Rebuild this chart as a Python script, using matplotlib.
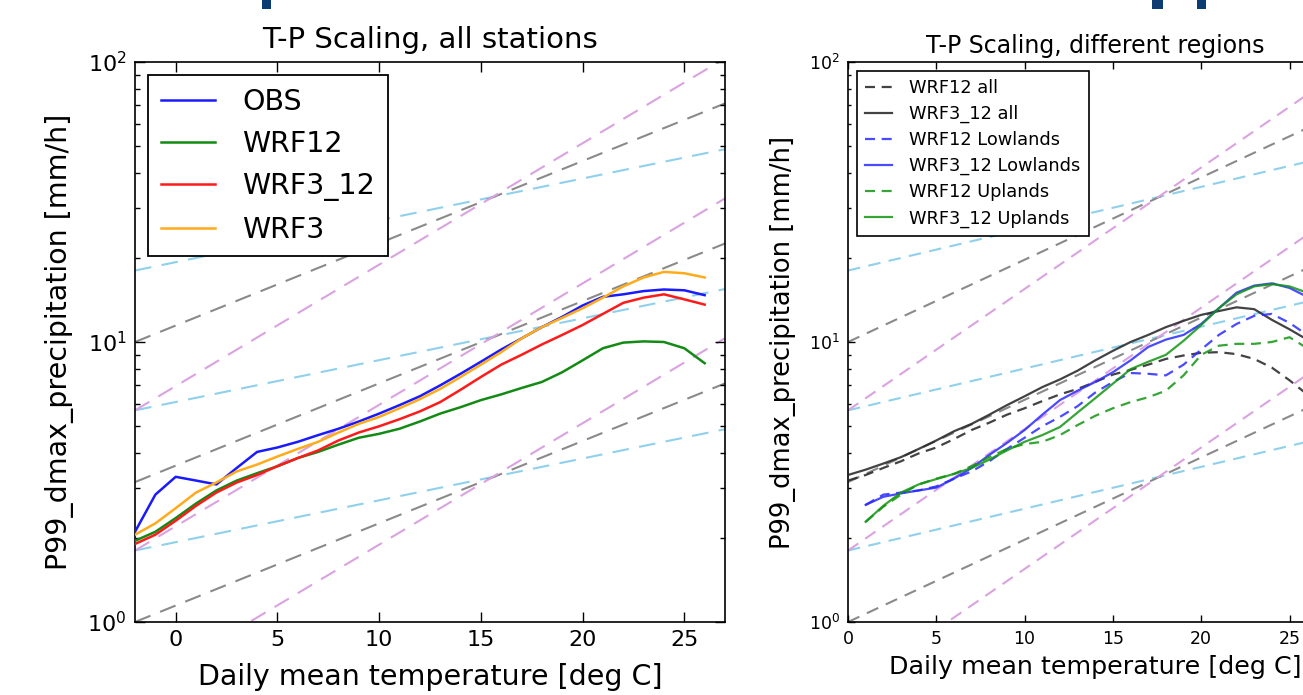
import matplotlib
matplotlib.use('Agg')
import matplotlib.pyplot as plt
import numpy as np
from matplotlib.patches import Rectangle
from matplotlib.ticker import LogLocator, NullFormatter

# ---- data: all stations (left panel) ----
temp_all = list(range(-2, 27))
obs = [2.1, 2.85, 3.3, 3.2, 3.1, 3.55, 4.05, 4.2, 4.4, 4.65, 4.9, 5.2, 5.55, 5.95, 6.4,
       7.0, 7.7, 8.5, 9.4, 10.3, 11.3, 12.3, 13.5, 14.5, 14.8, 15.2, 15.4, 15.3, 14.7]
wrf12 = [1.95, 2.1, 2.35, 2.65, 2.95, 3.2, 3.4, 3.6, 3.85, 4.05, 4.3, 4.55, 4.7, 4.9, 5.2,
         5.55, 5.85, 6.2, 6.5, 6.85, 7.2, 7.8, 8.6, 9.5, 9.95, 10.05, 10.0, 9.5, 8.4]
wrf3_12 = [1.9, 2.05, 2.3, 2.6, 2.9, 3.15, 3.35, 3.6, 3.85, 4.1, 4.45, 4.75, 5.0, 5.3, 5.65,
           6.1, 6.75, 7.5, 8.3, 9.0, 9.8, 10.6, 11.5, 12.6, 13.8, 14.4, 14.8, 14.2, 13.6]
wrf3 = [2.05, 2.25, 2.55, 2.9, 3.15, 3.45, 3.65, 3.9, 4.15, 4.4, 4.75, 5.1, 5.4, 5.8, 6.25,
        6.8, 7.5, 8.3, 9.2, 10.3, 11.3, 12.2, 13.2, 14.4, 15.8, 17.0, 17.8, 17.6, 17.0]

# ---- data: regions (right panel) ----
temp_reg_all = list(range(0, 28))
wrf12_all = [3.2, 3.35, 3.55, 3.75, 4.0, 4.2, 4.5, 4.85, 5.15, 5.5, 5.8, 6.15, 6.5, 6.8,
             7.2, 7.65, 7.95, 8.3, 8.7, 8.95, 9.15, 9.2, 9.05, 8.7, 8.1, 7.3, 6.5, 5.9]
wrf3_12_all = [3.35, 3.5, 3.68, 3.88, 4.15, 4.45, 4.8, 5.1, 5.5, 5.95, 6.4, 6.9, 7.35, 7.9,
               8.6, 9.3, 10.0, 10.6, 11.3, 11.9, 12.5, 12.9, 13.3, 13.1, 12.0, 11.1, 10.2, 9.3]
temp_reg = list(range(1, 28))
wrf12_low = [2.62, 2.85, 2.9, 2.95, 3.05, 3.25, 3.45, 3.75, 4.15, 4.55, 5.0, 5.4, 5.9, 6.6,
             7.2, 7.75, 7.7, 7.6, 8.3, 9.4, 10.6, 11.6, 12.4, 12.6, 11.7, 10.6, 9.5]
wrf3_12_low = [2.62, 2.8, 2.88, 2.95, 3.02, 3.25, 3.55, 3.95, 4.36, 4.85, 5.5, 6.2, 6.7, 7.2,
               7.8, 8.6, 9.6, 10.2, 10.6, 11.6, 13.2, 15.0, 15.9, 16.2, 15.6, 14.5, 13.0]
wrf12_up = [2.28, 2.58, 2.85, 3.1, 3.25, 3.38, 3.6, 3.88, 4.15, 4.32, 4.4, 4.65, 5.05, 5.45,
            5.8, 6.1, 6.35, 6.7, 7.6, 9.0, 9.7, 9.85, 9.85, 10.0, 10.4, 9.5, 8.8]
wrf3_12_up = [2.28, 2.6, 2.9, 3.1, 3.24, 3.38, 3.55, 3.8, 4.1, 4.4, 4.65, 4.97, 5.6, 6.3,
              7.1, 8.0, 8.5, 9.0, 10.1, 11.5, 13.2, 14.8, 15.8, 16.1, 15.8, 15.0, 14.0]

# ---- Clausius-Clapeyron style reference lines (rate per deg, start values) ----
cc_rates = [0.035, 0.07, 0.105]
cc_starts = [[1.8, 5.7, 18.0], [1.0, 3.16, 10.0], [0.57, 1.8, 5.7]]
cc_colors = ['#8fd0ec', '#8a8a8a', '#dba2e2']


def scaling_lines(ax, t0, t1, dashes):
    t = np.array([t0, t1], dtype=float)
    for rate, starts, color in zip(cc_rates, cc_starts, cc_colors):
        for p0 in starts:
            ax.plot(t, p0 * (1 + rate) ** (t - t0), color=color, lw=1.5,
                    dashes=dashes, zorder=1)


def style_axes(ax, fs, major, minor):
    ax.set_yscale('log')
    ax.set_ylim(1, 100)
    ax.yaxis.set_minor_locator(LogLocator(base=10, subs=np.arange(2, 10)))
    ax.yaxis.set_minor_formatter(NullFormatter())
    ax.tick_params(which='both', direction='in', top=True, right=True,
                   labelsize=fs, pad=6)
    ax.tick_params(which='major', length=major, width=1)
    ax.tick_params(which='minor', length=minor, width=1)
    for sp in ax.spines.values():
        sp.set_linewidth(1.2)
        sp.set_color('black')


fig = plt.figure(figsize=(13.03, 6.95), dpi=100)

# slide title remnants at the very top
for x0, w in [(262, 9), (1152, 11), (1197, 9)]:
    fig.add_artist(Rectangle((x0 / 1303, 1 - 9 / 695), w / 1303, 9 / 695,
                             transform=fig.transFigure, color='#0b3d73', lw=0))

# ---- left panel ----
ax1 = fig.add_axes([135 / 1303, 73 / 695, 590 / 1303, 560 / 695])
scaling_lines(ax1, -2, 27, (8, 5))
ax1.plot(temp_all, obs, color='#1a1aff', lw=1.8, label='OBS', zorder=3)
ax1.plot(temp_all, wrf12, color='#138a13', lw=1.8, label='WRF12', zorder=3)
ax1.plot(temp_all, wrf3_12, color='#ff1a1a', lw=1.8, label='WRF3_12', zorder=3)
ax1.plot(temp_all, wrf3, color='#ffab1a', lw=1.8, label='WRF3', zorder=3)
style_axes(ax1, 16, 7, 3.5)
ax1.set_xlim(-2, 27)
ax1.set_xticks([0, 5, 10, 15, 20, 25])
ax1.text(0.5, 1 + 22 / 560, 'T-P Scaling, all stations', transform=ax1.transAxes,
         ha='center', va='center', fontsize=21)
ax1.set_xlabel('Daily mean temperature [deg C]', fontsize=20.5, va='center')
ax1.set_ylabel('P99_dmax_precipitation [mm/h]', fontsize=20.5, va='center')
ax1.xaxis.set_label_coords(0.5, -55 / 560)
ax1.yaxis.set_label_coords(-75 / 590, 0.5)
leg1 = ax1.legend(loc='upper left', fontsize=20.5, fancybox=False, framealpha=1,
                  borderaxespad=0.46, borderpad=0.45, handlelength=1.9,
                  handletextpad=0.95, labelspacing=0.5)
leg1.get_frame().set_edgecolor('black')
leg1.get_frame().set_linewidth(1.3)

# ---- right panel (cut off at the right edge of the screenshot) ----
ax2 = fig.add_axes([848 / 1303, 73 / 695, 494.5 / 1303, 560 / 695])
scaling_lines(ax2, 0, 28, (6, 4))
ax2.plot(temp_reg_all, wrf12_all, color='#222222', alpha=0.85, lw=1.6,
         dashes=(4.5, 3), label='WRF12 all', zorder=3)
ax2.plot(temp_reg_all, wrf3_12_all, color='#222222', alpha=0.85, lw=1.6,
         label='WRF3_12 all', zorder=3)
ax2.plot(temp_reg, wrf12_low, color='#2a2aff', alpha=0.85, lw=1.6,
         dashes=(4.5, 3), label='WRF12 Lowlands', zorder=3)
ax2.plot(temp_reg, wrf3_12_low, color='#2a2aff', alpha=0.85, lw=1.6,
         label='WRF3_12 Lowlands', zorder=3)
ax2.plot(temp_reg, wrf12_up, color='#139613', alpha=0.85, lw=1.6,
         dashes=(4.5, 3), label='WRF12 Uplands', zorder=3)
ax2.plot(temp_reg, wrf3_12_up, color='#139613', alpha=0.85, lw=1.6,
         label='WRF3_12 Uplands', zorder=3)
style_axes(ax2, 12.5, 5, 2.5)
ax2.set_xlim(0, 28)
ax2.set_xticks([0, 5, 10, 15, 20, 25])
ax2.text(0.5, 1 + 16 / 560, 'T-P Scaling, different regions', transform=ax2.transAxes,
         ha='center', va='center', fontsize=17)
ax2.set_xlabel('Daily mean temperature [deg C]', fontsize=18.3, va='center')
ax2.set_ylabel('P99_dmax_precipitation [mm/h]', fontsize=18.5, va='center')
ax2.xaxis.set_label_coords(0.5, -45 / 560)
ax2.yaxis.set_label_coords(-65 / 494.5, 0.5)
leg2 = ax2.legend(loc='upper left', fontsize=12.8, fancybox=False, framealpha=1,
                  borderaxespad=0.5, borderpad=0.45, handlelength=1.5,
                  handletextpad=1.0, labelspacing=0.45)
leg2.get_frame().set_edgecolor('black')
leg2.get_frame().set_linewidth(1.2)

fig.savefig('out.png', dpi=100)
plt.close(fig)
